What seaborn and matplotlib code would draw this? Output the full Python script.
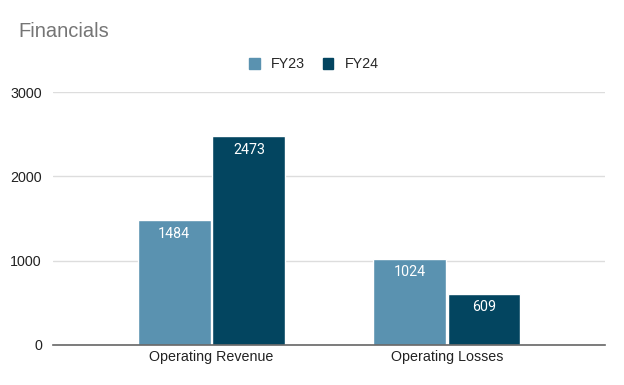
import pandas as pd
import matplotlib.pyplot as plt
import seaborn as sns

# Data
categories = ["Operating Revenue", "Operating Losses"]
fy23 = [1484, 1024]
fy24 = [2473, 609]
series = ["FY23", "FY24"]
colors = ["#5A92B0", "#034560"]

df = pd.DataFrame({
    "category": categories * 2,
    "value": fy23 + fy24,
    "year": [series[0]] * 2 + [series[1]] * 2,
})

sns.set_style("white")
plt.rcParams['font.family'] = ['Liberation Sans', 'DejaVu Sans']

fig = plt.figure(figsize=(6.24, 3.85), dpi=100)
ax = fig.add_axes([0.085, 0.104, 0.885, 0.657])

sns.barplot(data=df, x="category", y="value", hue="year", palette=colors,
            saturation=1, width=0.635, gap=0.025, ax=ax, legend=False)

ax.set_xlim(-0.674, 1.674)
ax.set_ylim(0, 3000)
ax.set_yticks([0, 1000, 2000, 3000])
ax.yaxis.grid(True, color="#dddddd", linewidth=1)
ax.set_axisbelow(True)
for s in ["top", "right", "left"]:
    ax.spines[s].set_visible(False)
ax.spines["bottom"].set_color("#666666")
ax.spines["bottom"].set_linewidth(1.2)
ax.tick_params(axis="both", length=0, labelsize=10.3, colors="#222222")
ax.tick_params(axis="y", pad=8)
ax.set_xlabel("")
ax.set_ylabel("")

for cont in ax.containers:
    ax.bar_label(cont, labels=[f"{int(v)}" for v in cont.datavalues],
                 label_type="edge", padding=-15, color="white", fontsize=10.3,
                 family=["Roboto", "DejaVu Sans"])

fig.text(0.029, 0.917, "Financials", fontsize=14.5, color="#757575", va="center")

# Legend
handles = [plt.Rectangle((0, 0), 1, 1, color=c) for c in colors]
fig.legend(handles, series, loc="center", bbox_to_anchor=(0.503, 0.833), ncol=2,
           frameon=False, fontsize=10.3, handlelength=0.75, handleheight=0.75,
           columnspacing=1.2, handletextpad=0.8)

plt.savefig("out.png", dpi=100)
